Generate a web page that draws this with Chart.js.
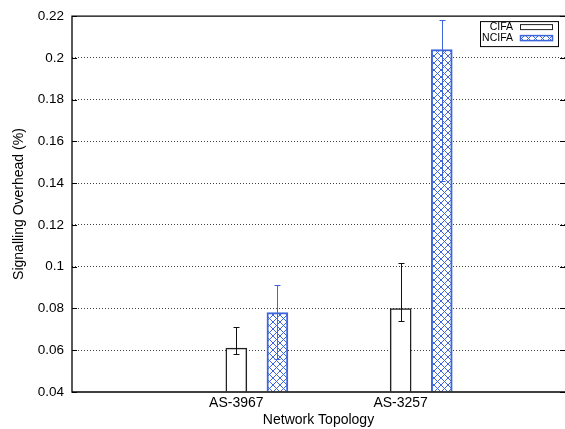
<!DOCTYPE html>
<html>
<head>
<meta charset="utf-8">
<script src="https://cdn.jsdelivr.net/npm/chart.js@4"></script>
<style>
  html, body { margin: 0; padding: 0; background: #fff; }
  #wrap { width: 565px; height: 429px; }
</style>
</head>
<body>
<div id="wrap"><canvas id="chart"></canvas></div>
<script>
const topologies = ['AS-3967', 'AS-3257'];
const cifaValues = [0.061, 0.080];
const cifaLow = [0.058, 0.074];
const cifaHigh = [0.071, 0.102];
const ncifaValues = [0.078, 0.204];
const ncifaLow = [0.056, 0.141];
const ncifaHigh = [0.091, 0.218];
const yTicks = [0.04, 0.06, 0.08, 0.1, 0.12, 0.14, 0.16, 0.18, 0.2, 0.22];

const blue = '#3d66dd';
const font = 'Liberation Sans, Arial, Helvetica, sans-serif';

// cross hatch like gnuplot pattern fill
function makeHatch() {
  const c = document.createElement('canvas');
  c.width = 7; c.height = 7;
  const g = c.getContext('2d');
  g.fillStyle = '#fff';
  g.fillRect(0, 0, 7, 7);
  g.strokeStyle = blue;
  g.lineWidth = 1;
  g.beginPath();
  g.moveTo(-1, -1); g.lineTo(8, 8);
  g.moveTo(8, -1); g.lineTo(-1, 8);
  g.stroke();
  return g.createPattern(c, 'repeat');
}
const hatch = makeHatch();

const errors = [
  { low: cifaLow, high: cifaHigh, color: '#111' },
  { low: ncifaLow, high: ncifaHigh, color: blue },
];

const framePlugin = {
  id: 'frame',
  afterDatasetsDraw(chart) {
    const ctx = chart.ctx;
    const a = chart.chartArea;
    const y = chart.scales.y;

    // error bars
    chart.data.datasets.forEach((ds, di) => {
      const meta = chart.getDatasetMeta(di);
      const e = errors[di];
      ctx.save();
      ctx.strokeStyle = e.color;
      ctx.lineWidth = 1;
      meta.data.forEach((bar, i) => {
        const x = Math.round(bar.x) + 0.5;
        const y1 = Math.round(y.getPixelForValue(e.low[i])) + 0.5;
        const y2 = Math.round(y.getPixelForValue(e.high[i])) + 0.5;
        ctx.beginPath();
        ctx.moveTo(x, y1); ctx.lineTo(x, y2);
        ctx.moveTo(x - 3, y1); ctx.lineTo(x + 3, y1);
        ctx.moveTo(x - 3, y2); ctx.lineTo(x + 3, y2);
        ctx.stroke();
      });
      ctx.restore();
    });

    // border (right side runs off the canvas) and inward ticks
    ctx.save();
    ctx.strokeStyle = '#000';
    ctx.lineWidth = 1.3;
    ctx.beginPath();
    ctx.moveTo(a.right, a.top); ctx.lineTo(a.left, a.top);
    ctx.lineTo(a.left, a.bottom); ctx.lineTo(a.right, a.bottom);
    ctx.stroke();
    ctx.lineWidth = 1;
    ctx.beginPath();
    yTicks.forEach(v => {
      const py = Math.round(y.getPixelForValue(v)) + 0.5;
      ctx.moveTo(a.left, py); ctx.lineTo(a.left + 5, py);
      ctx.moveTo(a.right, py); ctx.lineTo(a.right - 5, py);
    });
    ctx.stroke();

    // legend, gnuplot style: text then sample
    const lx = a.right - 85, ly = a.top + 5;
    ctx.fillStyle = '#fff';
    ctx.fillRect(lx, ly, 79, 25);
    ctx.strokeRect(lx + 0.5, ly + 0.5, 78, 25);
    ctx.font = '10.5px ' + font;
    ctx.textAlign = 'right';
    ctx.textBaseline = 'middle';
    chart.data.datasets.forEach((ds, di) => {
      const cy = ly + 6 + di * 11;
      ctx.fillStyle = '#000';
      ctx.fillText(ds.label, lx + 33, cy + 0.5);
      ctx.fillStyle = ds.backgroundColor;
      ctx.fillRect(lx + 40, cy - 3, 33, 6);
      ctx.strokeStyle = ds.borderColor;
      ctx.lineWidth = di === 0 ? 1 : 1.5;
      ctx.strokeRect(lx + 40.5, cy - 2.5, 32, 5);
    });
    ctx.restore();
  }
};

new Chart(document.getElementById('chart'), {
  type: 'bar',
  data: {
    datasets: [{
      label: 'CIFA',
      data: cifaValues.map((v, i) => ({ x: i, y: v })),
      backgroundColor: '#fff',
      borderColor: '#222',
      borderWidth: 1.5,
    }, {
      label: 'NCIFA',
      data: ncifaValues.map((v, i) => ({ x: i + 0.25, y: v })),
      backgroundColor: hatch,
      borderColor: blue,
      borderWidth: 2,
    }],
  },
  options: {
    responsive: true,
    maintainAspectRatio: false,
    animation: false,
    grouped: false,
    barThickness: 21,
    base: 0.04,
    layout: { padding: { top: 16, right: 0, left: 0, bottom: 0 } },
    plugins: {
      legend: { display: false },
      tooltip: { enabled: false },
    },
    scales: {
      x: {
        type: 'linear',
        offset: false,
        min: -1,
        max: 2,
        afterBuildTicks: s => { s.ticks = topologies.map((t, i) => ({ value: i })); },
        afterFit: s => { s.height = 37; },
        grid: { display: false, drawTicks: false },
        border: { display: false },
        ticks: {
          padding: 3,
          color: '#000',
          font: { family: font, size: 14 },
          callback: v => topologies[v],
        },
        title: {
          display: true,
          text: 'Network Topology',
          color: '#000',
          font: { family: font, size: 14 },
          padding: { top: 0, bottom: 0 },
        },
      },
      y: {
        min: 0.04,
        max: 0.22,
        afterBuildTicks: s => { s.ticks = yTicks.map(v => ({ value: v })); },
        afterFit: s => { s.width = 72; },
        grid: {
          drawTicks: false,
          color: ctx => (ctx.index === 0 || ctx.index === yTicks.length - 1) ? 'rgba(0,0,0,0)' : 'rgba(0,0,0,0.75)',
          lineWidth: 1,
        },
        border: { display: false, dash: [1, 2] },
        ticks: {
          padding: 8,
          color: '#000',
          font: { family: font, size: 13.5 },
          callback: v => String(Number(v.toFixed(2))),
        },
        title: {
          display: true,
          text: 'Signalling Overhead (%)',
          color: '#000',
          font: { family: font, size: 14 },
          padding: { top: 11, bottom: 0 },
        },
      },
    },
  },
  plugins: [framePlugin],
});
</script>
</body>
</html>
